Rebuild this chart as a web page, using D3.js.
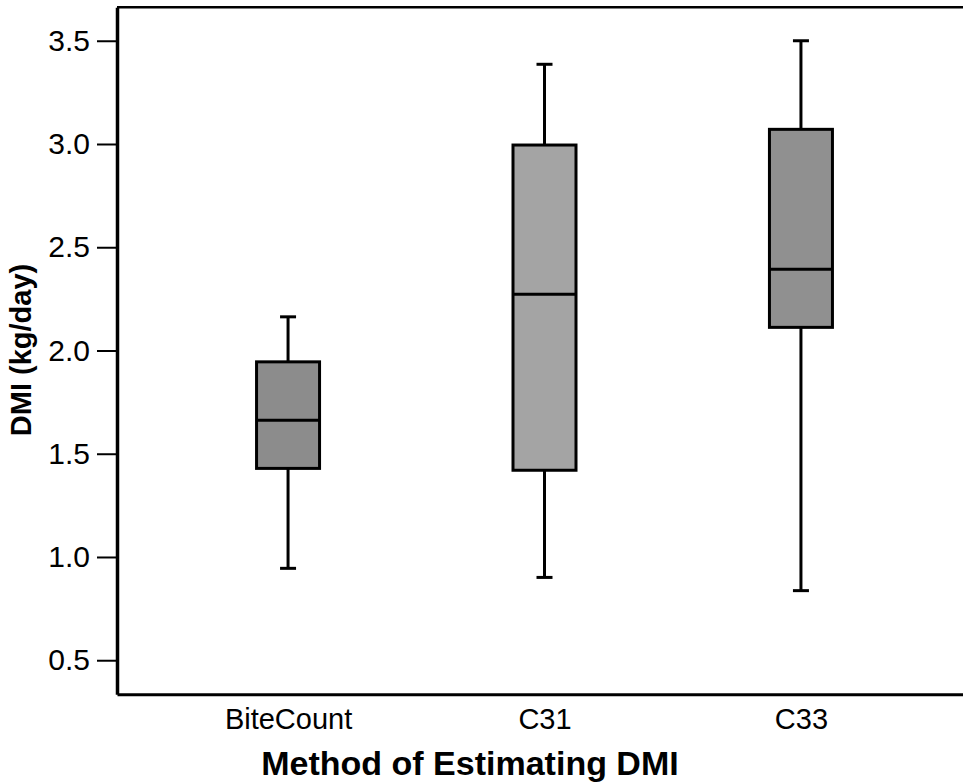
<!DOCTYPE html>
<html>
<head>
<meta charset="utf-8">
<script src="https://cdn.jsdelivr.net/npm/d3@7/dist/d3.min.js"></script>
<style>
  html, body { margin: 0; padding: 0; background: #fff; }
  svg { display: block; }
  text { font-family: "Liberation Sans", Arial, sans-serif; fill: #000; }
</style>
</head>
<body>
<svg id="chart" width="963" height="783"></svg>
<script>
// Box-plot summary of DMI estimates for each method
const categories = ["BiteCount", "C31", "C33"];
const whiskerLow  = [0.945, 0.901, 0.837];
const quartile1   = [1.429, 1.420, 2.112];
const medians     = [1.662, 2.272, 2.393];
const quartile3   = [1.945, 2.995, 3.071];
const whiskerHigh = [2.163, 3.386, 3.500];
const boxFills    = ["#8c8c8c", "#a4a4a4", "#909090"];
const yTicks = [0.5, 1.0, 1.5, 2.0, 2.5, 3.0, 3.5];

const svg = d3.select("#chart");
const W = 963, H = 783;
const plot = { left: 117, top: 7.3, right: 972, bottom: 694.3 };

const x = d3.scalePoint()
  .domain(categories)
  .range([plot.left, plot.right])
  .padding(0.667);

const y = d3.scaleLinear()
  .domain([0.335, 3.662])
  .range([plot.bottom, plot.top]);

const boxW = 63, capW = 16;

const rows = categories.map((c, i) => ({
  cat: c, lo: whiskerLow[i], q1: quartile1[i], med: medians[i],
  q3: quartile3[i], hi: whiskerHigh[i], fill: boxFills[i]
}));

const g = svg.append("g");

// whiskers
const bx = g.selectAll("g.box").data(rows).join("g").attr("class", "box");
bx.append("line")
  .attr("x1", d => x(d.cat)).attr("x2", d => x(d.cat))
  .attr("y1", d => y(d.hi)).attr("y2", d => y(d.q3))
  .attr("stroke", "#000").attr("stroke-width", 3);
bx.append("line")
  .attr("x1", d => x(d.cat)).attr("x2", d => x(d.cat))
  .attr("y1", d => y(d.q1)).attr("y2", d => y(d.lo))
  .attr("stroke", "#000").attr("stroke-width", 3);
// caps
["hi", "lo"].forEach(k => {
  bx.append("line")
    .attr("x1", d => x(d.cat) - capW / 2).attr("x2", d => x(d.cat) + capW / 2)
    .attr("y1", d => y(d[k])).attr("y2", d => y(d[k]))
    .attr("stroke", "#000").attr("stroke-width", 3);
});
// boxes
bx.append("rect")
  .attr("x", d => x(d.cat) - boxW / 2)
  .attr("width", boxW)
  .attr("y", d => y(d.q3))
  .attr("height", d => y(d.q1) - y(d.q3))
  .attr("fill", d => d.fill)
  .attr("stroke", "#000").attr("stroke-width", 3);
// medians
bx.append("line")
  .attr("x1", d => x(d.cat) - boxW / 2).attr("x2", d => x(d.cat) + boxW / 2)
  .attr("y1", d => y(d.med)).attr("y2", d => y(d.med))
  .attr("stroke", "#000").attr("stroke-width", 3);

// top frame line
svg.append("line")
  .attr("x1", plot.left).attr("x2", W).attr("y1", plot.top).attr("y2", plot.top)
  .attr("stroke", "#000").attr("stroke-width", 2.5);

// y axis
const yAxis = svg.append("g")
  .attr("transform", `translate(${plot.left},0)`)
  .call(d3.axisLeft(y).tickValues(yTicks).tickFormat(d3.format(".1f"))
    .tickSizeInner(20).tickSizeOuter(0).tickPadding(7));
yAxis.select(".domain").attr("stroke", "#000").attr("stroke-width", 3.5);
yAxis.selectAll(".tick line").attr("stroke", "#000").attr("stroke-width", 2);
yAxis.selectAll(".tick text")
  .attr("font-size", 30).attr("font-family", "Liberation Sans, Arial, sans-serif")
  .attr("fill", "#000");

// x axis
const xAxis = svg.append("g")
  .attr("transform", `translate(0,${plot.bottom})`)
  .call(d3.axisBottom(x).tickSize(0).tickPadding(14));
xAxis.select(".domain").attr("stroke", "#000").attr("stroke-width", 3);
xAxis.selectAll(".tick text")
  .attr("font-size", 29).attr("font-family", "Liberation Sans, Arial, sans-serif")
  .attr("fill", "#000");

// axis titles
svg.append("text")
  .attr("x", 470).attr("y", 775)
  .attr("text-anchor", "middle")
  .attr("font-size", 34).attr("font-weight", "bold")
  .text("Method of Estimating DMI");

svg.append("text")
  .attr("transform", "translate(31,350) rotate(-90)")
  .attr("text-anchor", "middle")
  .attr("font-size", 29).attr("font-weight", "bold")
  .text("DMI (kg/day)");
</script>
</body>
</html>
